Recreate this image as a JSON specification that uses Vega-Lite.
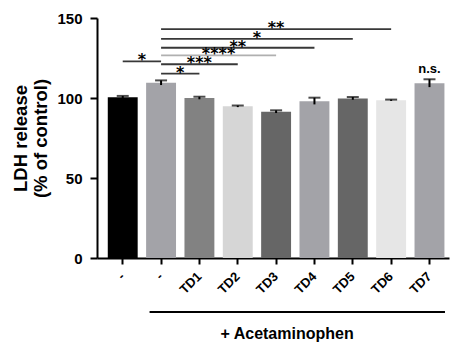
{
  "$schema": "https://vega.github.io/schema/vega-lite/v6.json",
  "width": 352,
  "height": 240,
  "autosize": {"type": "none"},
  "padding": {"left": 97, "top": 18, "right": 5, "bottom": 85},
  "background": "white",
  "config": {
    "view": {"stroke": null},
    "font": "Liberation Sans",
    "axis": {
      "grid": false,
      "domainColor": "#000",
      "tickColor": "#000",
      "domainWidth": 2,
      "tickWidth": 2,
      "labelColor": "#000",
      "titleColor": "#000",
      "labelFont": "Liberation Sans",
      "titleFont": "Liberation Sans",
      "labelFontWeight": "bold",
      "titleFontWeight": "bold"
    }
  },
  "datasets": {
    "bars": [
      {"group": "c1", "value": 100.5, "lower": 99.8, "upper": 101.3},
      {"group": "c2", "value": 109.5, "lower": 108.1, "upper": 111.0},
      {"group": "TD1", "value": 100.0, "lower": 99.2, "upper": 100.8},
      {"group": "TD2", "value": 94.8, "lower": 94.3, "upper": 95.3},
      {"group": "TD3", "value": 91.4, "lower": 90.6, "upper": 92.3},
      {"group": "TD4", "value": 98.0, "lower": 96.0, "upper": 100.2},
      {"group": "TD5", "value": 99.7, "lower": 98.9, "upper": 100.6},
      {"group": "TD6", "value": 98.6, "lower": 98.2, "upper": 99.0},
      {"group": "TD7", "value": 109.2, "lower": 106.8, "upper": 111.7, "note": "n.s."}
    ],
    "sig": [
      {"from": "c1", "to": "c2", "level": 122.9, "label": "*", "at": "c1", "edge": true},
      {"from": "c2", "to": "TD1", "level": 115.2, "label": "*", "at": "c2", "edge": true},
      {"from": "c2", "to": "TD2", "level": 121.1, "label": "***", "at": "TD1", "edge": false},
      {"from": "c2", "to": "TD3", "level": 126.7, "label": "****", "at": "TD1", "edge": true},
      {"from": "c2", "to": "TD4", "level": 131.4, "label": "**", "at": "TD2", "edge": false},
      {"from": "c2", "to": "TD5", "level": 136.9, "label": "*", "at": "TD2", "edge": true},
      {"from": "c2", "to": "TD6", "level": 143.1, "label": "**", "at": "TD3", "edge": false}
    ]
  },
  "layer": [
    {
      "data": {"name": "bars"},
      "mark": {"type": "bar", "width": {"band": 0.78}},
      "encoding": {
        "x": {
          "field": "group", "type": "nominal",
          "scale": {"domain": ["c1","c2","TD1","TD2","TD3","TD4","TD5","TD6","TD7"], "paddingInner": 0, "paddingOuter": 0.09, "align": 0.95},
          "axis": {
            "title": null,
            "labelExpr": "datum.value === 'c1' || datum.value === 'c2' ? '-' : datum.value",
            "labelAngle": -45, "labelAlign": "right", "labelBaseline": "middle",
            "labelFontSize": 13, "tickSize": 6, "labelPadding": 10
          }
        },
        "y": {
          "field": "value", "type": "quantitative",
          "scale": {"domain": [0, 150], "nice": false},
          "axis": {
            "title": ["LDH release", "(% of control)"],
            "values": [0, 50, 100, 150],
            "labelFontSize": 15, "tickSize": 7, "labelPadding": 8,
            "titleFontSize": 18.5, "titlePadding": 6, "titleLineHeight": 20
          }
        },
        "color": {
          "field": "group", "type": "nominal",
          "scale": {"domain": ["c1","c2","TD1","TD2","TD3","TD4","TD5","TD6","TD7"],
                    "range": ["#000000","#a3a3a8","#828282","#d6d6d6","#666666","#a3a3a8","#666666","#e6e6e6","#a3a3a8"]},
          "legend": null
        }
      }
    },
    {
      "data": {"name": "bars"},
      "mark": {"type": "rule", "color": "#000", "strokeWidth": 2},
      "encoding": {
        "x": {"field": "group", "type": "nominal", "scale": {"domain": ["c1","c2","TD1","TD2","TD3","TD4","TD5","TD6","TD7"]}},
        "y": {"field": "lower", "type": "quantitative", "scale": {"domain": [0, 150], "nice": false}},
        "y2": {"field": "upper"}
      }
    },
    {
      "data": {"name": "bars"},
      "mark": {"type": "tick", "color": "#000", "size": 12, "thickness": 2, "orient": "horizontal"},
      "encoding": {
        "x": {"field": "group", "type": "nominal", "scale": {"domain": ["c1","c2","TD1","TD2","TD3","TD4","TD5","TD6","TD7"]}},
        "y": {"field": "upper", "type": "quantitative", "scale": {"domain": [0, 150], "nice": false}}
      }
    },
    {
      "data": {"name": "bars"},
      "transform": [{"filter": "datum.note != null"}],
      "mark": {"type": "text", "fontSize": 13, "fontWeight": "bold", "baseline": "alphabetic", "dy": -6, "color": "#000"},
      "encoding": {
        "x": {"field": "group", "type": "nominal", "scale": {"domain": ["c1","c2","TD1","TD2","TD3","TD4","TD5","TD6","TD7"]}},
        "y": {"field": "upper", "type": "quantitative", "scale": {"domain": [0, 150], "nice": false}},
        "text": {"field": "note"}
      }
    },
    {
      "data": {"name": "sig"},
      "mark": {"type": "rule", "strokeWidth": 1.8},
      "encoding": {
        "x": {"field": "from", "type": "nominal", "scale": {"domain": ["c1","c2","TD1","TD2","TD3","TD4","TD5","TD6","TD7"]}},
        "x2": {"field": "to"},
        "y": {"field": "level", "type": "quantitative", "scale": {"domain": [0, 150], "nice": false}},
        "color": {"condition": {"test": "datum.label === '****'", "value": "#b0b0b0"}, "value": "#383838"}
      }
    },
    {
      "data": {"name": "sig"},
      "transform": [{"filter": "datum.edge"}],
      "mark": {"type": "text", "font": "DejaVu Sans", "fontSize": 16, "fontWeight": "bold", "baseline": "alphabetic", "dy": 4, "color": "#000"},
      "encoding": {
        "x": {"field": "at", "type": "nominal", "bandPosition": 1, "scale": {"domain": ["c1","c2","TD1","TD2","TD3","TD4","TD5","TD6","TD7"]}},
        "y": {"field": "level", "type": "quantitative", "scale": {"domain": [0, 150], "nice": false}},
        "text": {"field": "label"}
      }
    },
    {
      "data": {"name": "sig"},
      "transform": [{"filter": "!datum.edge"}],
      "mark": {"type": "text", "font": "DejaVu Sans", "fontSize": 16, "fontWeight": "bold", "baseline": "alphabetic", "dy": 4, "color": "#000"},
      "encoding": {
        "x": {"field": "at", "type": "nominal", "scale": {"domain": ["c1","c2","TD1","TD2","TD3","TD4","TD5","TD6","TD7"]}},
        "y": {"field": "level", "type": "quantitative", "scale": {"domain": [0, 150], "nice": false}},
        "text": {"field": "label"}
      }
    },
    {
      "data": {"values": [{}]},
      "mark": {"type": "rule", "color": "#000", "strokeWidth": 2, "xOffset": -11.5, "x2Offset": 15.5},
      "encoding": {
        "x": {"datum": "c2", "type": "nominal", "scale": {"domain": ["c1","c2","TD1","TD2","TD3","TD4","TD5","TD6","TD7"]}},
        "x2": {"datum": "TD7"},
        "y": {"datum": -33.8, "type": "quantitative", "scale": {"domain": [0, 150], "nice": false}}
      }
    },
    {
      "data": {"values": [{}]},
      "mark": {"type": "text", "fontSize": 16, "fontWeight": "bold", "baseline": "middle", "dx": 11, "color": "#000"},
      "encoding": {
        "x": {"datum": "TD3", "type": "nominal", "scale": {"domain": ["c1","c2","TD1","TD2","TD3","TD4","TD5","TD6","TD7"]}},
        "y": {"datum": -47.3, "type": "quantitative", "scale": {"domain": [0, 150], "nice": false}},
        "text": {"value": "+ Acetaminophen"}
      }
    }
  ]
}
